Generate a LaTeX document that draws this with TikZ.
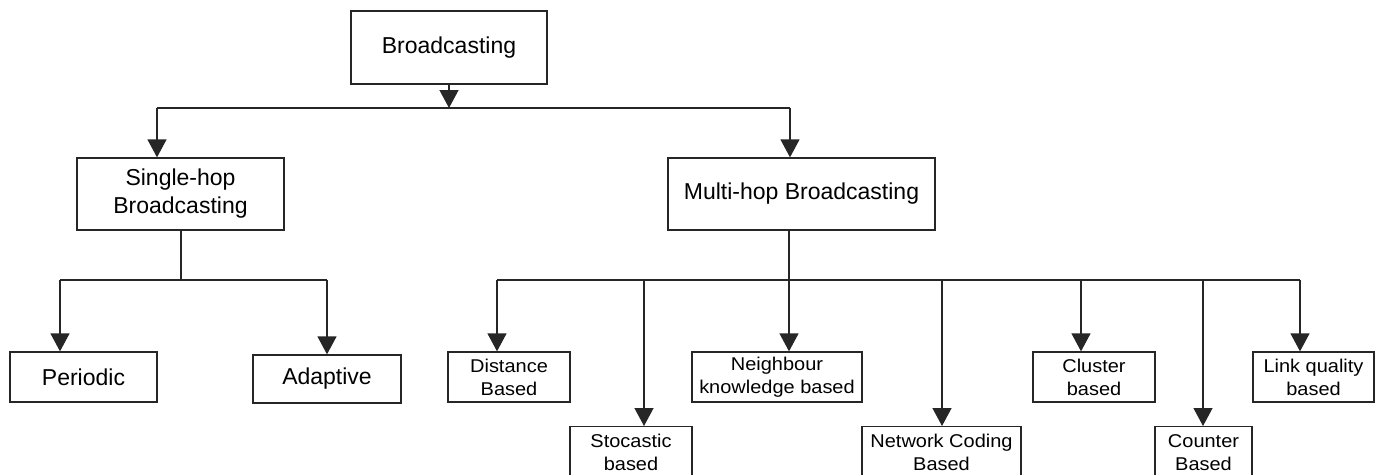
\documentclass[tikz,border=0pt]{standalone}
\usepackage{fontspec}
\setmainfont{Liberation Sans}
\newfontfamily\smallfont[FakeStretch=1.08]{Liberation Sans}
\usetikzlibrary{arrows.meta}
\begin{document}
\begin{tikzpicture}[x=1pt,y=-1pt,
  ln/.style={line width=1.3pt, draw=black!85},
  box/.style={ln, draw, fill=white, inner sep=0pt, align=center, font=\fontsize{23}{28}\selectfont},
  sbox/.style={box, font=\smallfont\fontsize{18.5}{23}\selectfont},
  arr/.style={ln, -{Triangle[width=19pt,length=18pt]}}]
\fill[white] (0,0) rectangle (1380,474);
\clip (0,0) rectangle (1380,474);
% nodes
\node[box, minimum width=196pt, minimum height=73pt] (top) at (449,47.5) {Broadcasting};
\node[box, minimum width=207pt, minimum height=72pt] (single) at (180.5,194) {Single-hop\\Broadcasting};
\node[box, minimum width=267pt, minimum height=72pt] (multi) at (801.5,194) {Multi-hop Broadcasting};
\node[box, minimum width=147pt, minimum height=50pt] (per) at (83.5,377) {Periodic};
\node[box, minimum width=148pt, minimum height=48pt] (ada) at (327,379) {Adaptive};
\node[sbox, minimum width=122pt, minimum height=50pt] (dist) at (509,377) {Distance\\Based};
\node[sbox, minimum width=122pt, minimum height=52pt, anchor=north] (sto) at (631,426) {Stocastic\\based};
\node[sbox, minimum width=170pt, minimum height=50pt] (nei) at (777,377) {Neighbour\\knowledge based};
\node[sbox, minimum width=159pt, minimum height=52pt, anchor=north] (net) at (941.5,426) {Network Coding\\Based};
\node[sbox, minimum width=122pt, minimum height=50pt] (clu) at (1094,377) {Cluster\\based};
\node[sbox, minimum width=97pt, minimum height=52pt, anchor=north] (cou) at (1203.5,426) {Counter\\Based};
\node[sbox, minimum width=121pt, minimum height=50pt] (lin) at (1313.5,377) {Link quality\\based};
% bus coordinates
\coordinate (b0) at (449,108);
\coordinate (b1) at (157,108);
\coordinate (b2) at (790,108);
\coordinate (s0) at (181,280);
\coordinate (s1) at (60,280);
\coordinate (s2) at (327,280);
\coordinate (m0) at (789,280);
\coordinate (m1) at (497,280);
\coordinate (m2) at (644,280);
\coordinate (m3) at (942,280);
\coordinate (m4) at (1081,280);
\coordinate (m5) at (1203,280);
\coordinate (m6) at (1300,280);
% connectors level 1
\draw[arr] (top.south) -- (b0);
\draw[ln] (b1) -- (b2);
\draw[arr] (b1) -- (b1 |- single.north);
\draw[arr] (b2) -- (b2 |- multi.north);
% single-hop
\draw[ln] (s0 |- single.south) -- (s0);
\draw[ln] (s1) -- (s2);
\draw[arr] (s1) -- (s1 |- per.north);
\draw[arr] (s2) -- (s2 |- ada.north);
% multi-hop
\draw[ln] (m0 |- multi.south) -- (m0);
\draw[ln] (m1) -- (m6);
\draw[arr] (m1) -- (m1 |- dist.north);
\draw[arr] (m2) -- (m2 |- sto.north);
\draw[arr] (m0) -- (m0 |- nei.north);
\draw[arr] (m3) -- (m3 |- net.north);
\draw[arr] (m4) -- (m4 |- clu.north);
\draw[arr] (m5) -- (m5 |- cou.north);
\draw[arr] (m6) -- (m6 |- lin.north);
\end{tikzpicture}
\end{document}
